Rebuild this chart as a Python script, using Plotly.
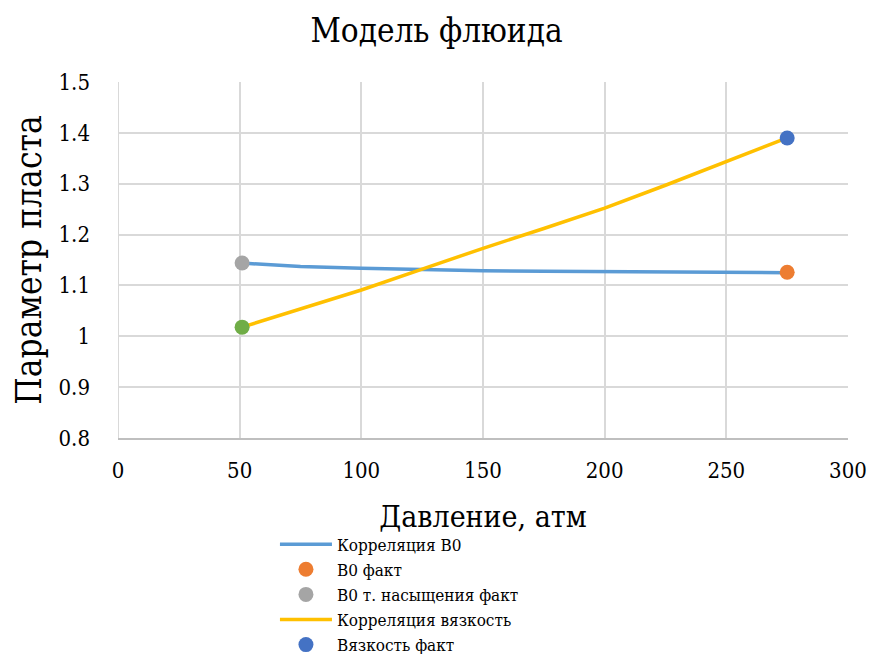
import plotly.graph_objects as go

# Correlation curves
pressure_corr = [51, 60, 75, 100, 125, 150, 175, 200, 225, 250, 275]
bo_corr = [1.144, 1.141, 1.137, 1.134, 1.131, 1.129, 1.128, 1.127, 1.126, 1.126, 1.125]

pressure_visc = [51, 75, 100, 125, 150, 175, 200, 225, 250, 275]
visc_corr = [1.018, 1.053, 1.091, 1.132, 1.173, 1.212, 1.252, 1.297, 1.343, 1.39]

# Measured points
bo_fact_p, bo_fact = [275], [1.126]
bo_sat_p, bo_sat = [51], [1.144]
visc_fact_p, visc_fact = [275], [1.39]
visc_sat_p, visc_sat = [51], [1.018]

serif = "DejaVu Serif Condensed, DejaVu Serif"

fig = go.Figure()
fig.add_trace(go.Scatter(x=pressure_corr, y=bo_corr, mode="lines",
                         name="Корреляция B0", line=dict(color="#5B9BD5", width=3.5)))
fig.add_trace(go.Scatter(x=bo_fact_p, y=bo_fact, mode="markers", name="B0 факт",
                         marker=dict(color="#ED7D31", size=15)))
fig.add_trace(go.Scatter(x=bo_sat_p, y=bo_sat, mode="markers", name="B0 т. насыщения факт",
                         marker=dict(color="#A5A5A5", size=15)))
fig.add_trace(go.Scatter(x=pressure_visc, y=visc_corr, mode="lines",
                         name="Корреляция вязкость", line=dict(color="#FFC000", width=3.5)))
fig.add_trace(go.Scatter(x=visc_fact_p, y=visc_fact, mode="markers", name="Вязкость факт",
                         marker=dict(color="#4472C4", size=15)))
fig.add_trace(go.Scatter(x=visc_sat_p, y=visc_sat, mode="markers",
                         name="Вязкость т. насыщения факт", showlegend=False,
                         marker=dict(color="#70AD47", size=15)))

fig.update_layout(
    width=873, height=654,
    margin=dict(l=118, r=25, t=82, b=216, autoexpand=False),
    paper_bgcolor="white", plot_bgcolor="white",
    font=dict(family=serif, color="black"),
    title=dict(text="Модель флюида", x=0.5, xanchor="center", y=0.953, yanchor="middle",
               font=dict(size=33, family=serif)),
    legend=dict(x=0.215, xanchor="left", y=-0.249, yanchor="top",
                font=dict(size=17, family="DejaVu Serif Condensed"), tracegroupgap=0,
                itemwidth=52, bgcolor="rgba(0,0,0,0)"),
    showlegend=True,
)
fig.update_xaxes(range=[0, 300], dtick=50, showgrid=True, gridcolor="#D9D9D9", gridwidth=2,
                 zeroline=False, showline=True, linecolor="#BFBFBF", linewidth=2,
                 tickfont=dict(size=22, family=serif), ticklabelstandoff=12,
                 title=dict(text="Давление, атм", font=dict(size=30, family=serif), standoff=24))
fig.update_yaxes(range=[0.8, 1.5], showgrid=True, gridcolor="#D9D9D9",
                 gridwidth=2, zeroline=False, showline=False,
                 tickvals=[0.8, 0.9, 1.0, 1.1, 1.2, 1.3, 1.4, 1.5],
                 ticktext=["0.8", "0.9", "1", "1.1", "1.2", "1.3", "1.4", "1.5"],
                 tickfont=dict(size=22, family=serif), ticklabelstandoff=27,
                 title=dict(text="Параметр пласта", font=dict(size=35, family=serif), standoff=6))
# left boundary gridline at x=0
fig.add_shape(type="line", xref="x", yref="paper", x0=0, x1=0, y0=0, y1=1,
              line=dict(color="#D9D9D9", width=2), layer="below")

fig.write_html("out.html")
